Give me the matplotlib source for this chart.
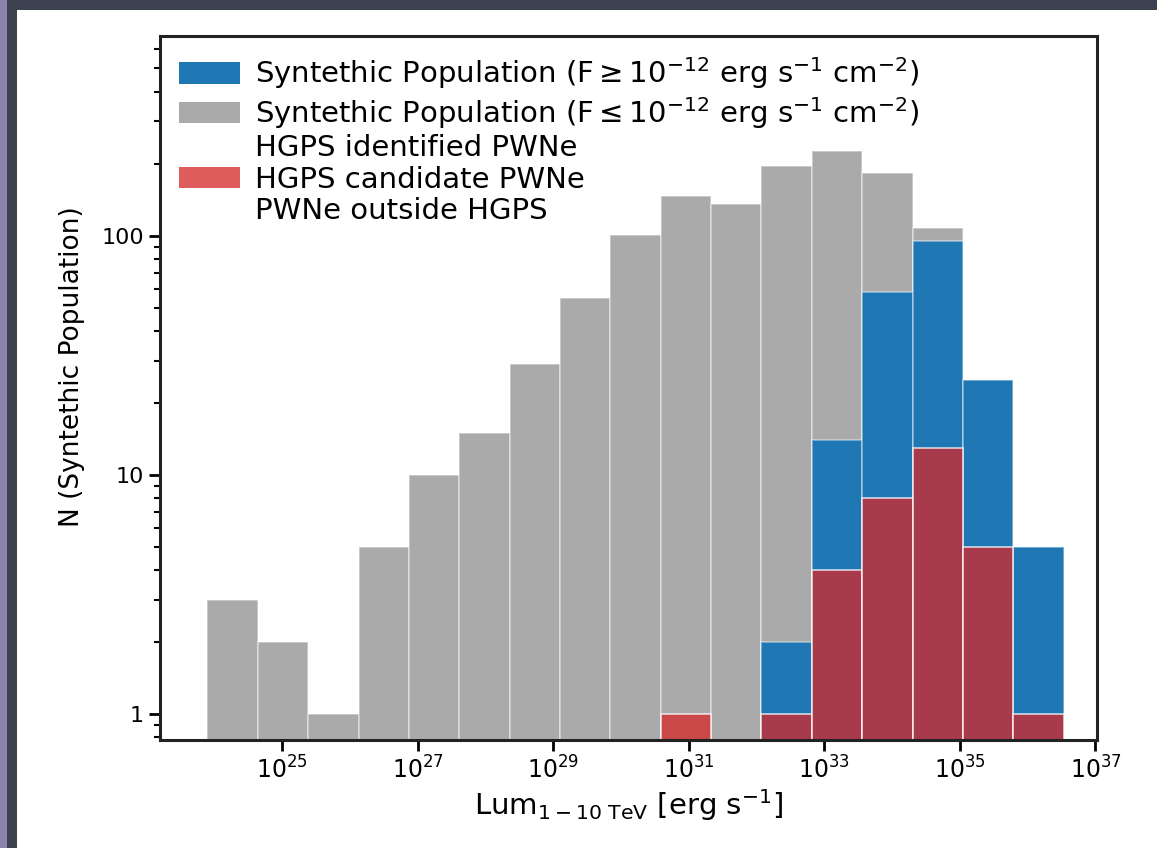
"""
luminosity histogram of synthetic PWN population vs HGPS
"""
import numpy as np
import matplotlib
matplotlib.use('Agg')
import matplotlib.pyplot as plt
from matplotlib.patches import Patch, Rectangle
from matplotlib.ticker import LogLocator, NullLocator, FixedLocator, FixedFormatter

# log10 of the bin edges (17 bins)
log_lo, log_hi, nbins = 23.9, 36.53, 17

# counts per bin
n_faint = [3, 2, 1, 5, 10, 15, 29, 55, 101, 146, 136, 196, 226, 183, 108, 25, 5]
n_bright = [0, 0, 0, 0, 0, 0, 0, 0, 0, 0, 0, 2, 14, 58, 95, 25, 5]
n_cand = [0, 0, 0, 0, 0, 0, 0, 0, 0, 1, 0, 1, 4, 8, 13, 5, 1]

labels = [
    r'Syntethic Population (F$\geq 10^{-12}$ erg s$^{-1}$ cm$^{-2}$)',
    r'Syntethic Population (F$\leq 10^{-12}$ erg s$^{-1}$ cm$^{-2}$)',
    'HGPS identified PWNe',
    'HGPS candidate PWNe',
    'PWNe outside HGPS',
]
xticks = [25, 27, 29, 31, 33, 35, 37]

c_gray = '#aaaaaa'
c_blue = '#1f77b4'
c_red = '#d62728'

edges = 10 ** np.linspace(log_lo, log_hi, nbins + 1)
widths = np.diff(edges)

fig = plt.figure(figsize=(11.57, 8.48), dpi=100)
fig.patch.set_facecolor('white')
# bits of the slide behind the figure
fig.patches.append(Rectangle((0, 0), 17 / 1157, 1, transform=fig.transFigure,
                             facecolor='#3c4250', edgecolor='none', zorder=-5))
fig.patches.append(Rectangle((0, 1 - 10 / 848), 1, 10 / 848, transform=fig.transFigure,
                             facecolor='#3c4250', edgecolor='none', zorder=-5))
fig.patches.append(Rectangle((0, 0), 7 / 1157, 1, transform=fig.transFigure,
                             facecolor='#8c84ac', edgecolor='none', zorder=-4))

ax = fig.add_axes([0.1383, 0.1274, 0.8097, 0.8296])
ax.set_xscale('log')
ax.set_yscale('log', nonpositive='clip')

sep = (1, 1, 1, 0.45)
ax.bar(edges[:-1], n_faint, width=widths, align='edge', color=c_gray,
       edgecolor=sep, linewidth=1.2)
ax.bar(edges[:-1], n_bright, width=widths, align='edge', color=c_blue,
       edgecolor=sep, linewidth=1.2)
ax.bar(edges[:-1], n_cand, width=widths, align='edge', color=c_red, alpha=0.75,
       edgecolor=(1, 1, 1, 0.3), linewidth=1.2)

ax.set_xlim(10 ** 23.2, 10 ** 37.02)
ax.set_ylim(0.78, 680)

ax.xaxis.set_major_locator(FixedLocator([10.0 ** p for p in xticks]))
ax.xaxis.set_major_formatter(FixedFormatter([r'$10^{%d}$' % p for p in xticks]))
ax.xaxis.set_minor_locator(NullLocator())
ax.yaxis.set_major_locator(FixedLocator([1, 10, 100]))
ax.yaxis.set_major_formatter(FixedFormatter(['1', '10', '100']))
ax.yaxis.set_minor_locator(LogLocator(base=10, subs=np.arange(2, 10), numticks=20))

ax.tick_params(which='major', length=8, width=2, labelsize=16, direction='out')
ax.tick_params(axis='x', labelsize=17)
ax.tick_params(which='minor', length=4, width=1.5, direction='out')
for s in ax.spines.values():
    s.set_linewidth(2.2)
    s.set_color('#222222')

ax.set_xlabel(r'Lum$_{1-10\ \mathrm{TeV}}$ [erg s$^{-1}$]', fontsize=21, labelpad=3)
ax.set_ylabel('N (Syntethic Population)', fontsize=19)
ax.yaxis.set_label_coords(-0.08, 0.53)

handles = [
    Patch(facecolor=c_blue),
    Patch(facecolor=c_gray),
    Patch(facecolor='none', edgecolor='none'),
    Patch(facecolor=c_red, alpha=0.75),
    Patch(facecolor='none', edgecolor='none'),
]
ax.legend(handles, labels, loc='upper left', frameon=False, fontsize=21,
          handlelength=2.1, handleheight=0.75, labelspacing=0.12,
          borderaxespad=0.25, handletextpad=0.5)

plt.savefig('out.png', dpi=100)
